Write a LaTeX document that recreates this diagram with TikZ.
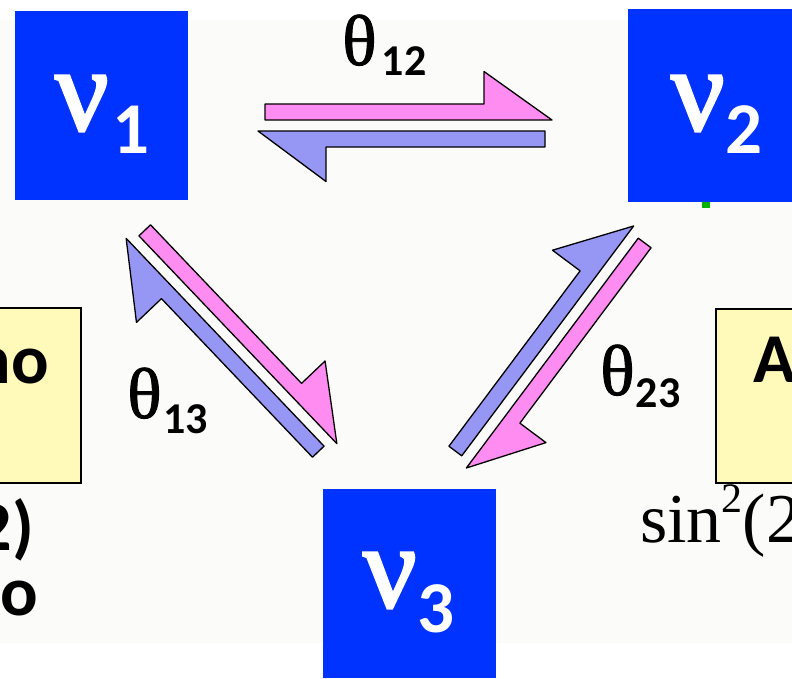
\documentclass[tikz,border=0pt]{standalone}
\usepackage{fontspec}
\setmainfont{Liberation Serif}
\newfontfamily\calib{Carlito}
\newfontfamily\greekb[FakeBold=2.5]{Liberation Serif}
\newfontfamily\greekm[FakeBold=1.2]{Liberation Serif}
\usepackage{xcolor}

\definecolor{nublue}{RGB}{0,51,255}
\definecolor{mixpink}{RGB}{255,140,240}
\definecolor{mixblue}{RGB}{150,150,245}
\definecolor{notefill}{RGB}{255,250,185}
\definecolor{paper}{RGB}{251,252,250}

\begin{document}
\begin{tikzpicture}[x=1pt, y=-1pt,
  nubox/.style={rectangle, fill=nublue, inner sep=0pt, minimum width=173pt},
  nutext/.style={text=white, inner sep=0pt, anchor=base west,
    font=\fontsize{118}{118}\selectfont\greekb},
  thetatext/.style={inner sep=0pt, anchor=base west,
    font=\fontsize{72}{72}\selectfont\greekm},
  notebox/.style={rectangle, draw=black, line width=1.5pt, fill=notefill, inner sep=0pt},
  notetext/.style={inner sep=0pt, font=\fontsize{70}{70}\selectfont\calib\bfseries},
  pinkharp/.style={fill=mixpink, draw=black, line width=1.3pt, line join=round},
  blueharp/.style={fill=mixblue, draw=black, line width=1.3pt, line join=round}]
  \useasboundingbox (0,0) rectangle (792,678);
  \fill[paper] (0,20) rectangle (792,643);

  % Side notes (cut by the page edge)
  \node[notebox, minimum width=101pt, minimum height=175pt] (solar) at (30.5,395.5) {};
  \node[notebox, minimum width=104pt, minimum height=174pt] (atmo) at (768,396) {};
  \node[notetext, anchor=base east] (solartxt) at (49,383) {no};
  \node[notetext, anchor=base east] (solarval) at (34,550) {2)};
  \node[notetext, anchor=base east] (solarsrc) at (38,615) {o};
  \node[notetext, anchor=base west] (atmotxt) at (753,382) {A};
  \node[inner sep=0pt, anchor=base west, font=\fontsize{70}{70}\selectfont]
    (atmoval) at (640,542) {sin\raisebox{0.42em}{\fontsize{42}{42}\selectfont 2}(2};

  % Mass states
  \node[nubox, minimum height=189pt] (nu1) at (101.5,105.5) {};
  \node[nubox, minimum height=193pt] (nu2) at (714.5,105.5) {};
  \node[nubox, minimum height=189pt] (nu3) at (409,583.5) {};
  \node[nutext] (nu1lab) at (55,130) {ν\hspace{4pt}\raisebox{-23pt}{\fontsize{73}{73}\selectfont\calib\bfseries 1}};
  \node[nutext] (nu2lab) at (671,130) {ν\hspace{1pt}\raisebox{-23pt}{\fontsize{73}{73}\selectfont\calib\bfseries 2}};
  \node[nutext] (nu3lab) at (363,607) {ν\hspace{1pt}\raisebox{-25pt}{\fontsize{73}{73}\selectfont\calib\bfseries 3}};
  \fill[green!70!black] (702,202) rectangle (710,208);

  % Mixing arrows nu1 <-> nu2
  \begin{scope}[shift={(405,125.5)}]
    \filldraw[pinkharp] (-140,-5.5) -- (147,-5.5) -- (79,-54) -- (79,-21.5) -- (-140,-21.5) -- cycle;
    \filldraw[blueharp] (-147,5.5) -- (140,5.5) -- (140,21.5) -- (-79,21.5) -- (-79,56) -- cycle;
  \end{scope}
  % Mixing arrows nu1 <-> nu3
  \begin{scope}[shift={(231.5,341)}, rotate=-46.4]
    \filldraw[pinkharp] (-140,-5.5) -- (147,-5.5) -- (79,-54) -- (79,-21.5) -- (-140,-21.5) -- cycle;
    \filldraw[blueharp] (-147,5.5) -- (140,5.5) -- (140,21.5) -- (-79,21.5) -- (-79,56) -- cycle;
  \end{scope}
  % Mixing arrows nu3 <-> nu2
  \begin{scope}[shift={(550,347)}, rotate=-126.8]
    \filldraw[pinkharp] (-140,-5.5) -- (147,-5.5) -- (79,-54) -- (79,-21.5) -- (-140,-21.5) -- cycle;
    \filldraw[blueharp] (-147,5.5) -- (140,5.5) -- (140,21.5) -- (-79,21.5) -- (-79,56) -- cycle;
  \end{scope}

  % Mixing angles
  \node[thetatext] (t12) at (342,65) {θ\hspace{5pt}\raisebox{-10pt}{\fontsize{44}{44}\selectfont\calib\bfseries 12}};
  \node[thetatext] (t13) at (127,418) {θ\hspace{2pt}\raisebox{-15pt}{\fontsize{44}{44}\selectfont\calib\bfseries 13}};
  \node[thetatext] (t23) at (600,395) {θ\hspace{1pt}\raisebox{-12pt}{\fontsize{44}{44}\selectfont\calib\bfseries 23}};
\end{tikzpicture}
\end{document}
